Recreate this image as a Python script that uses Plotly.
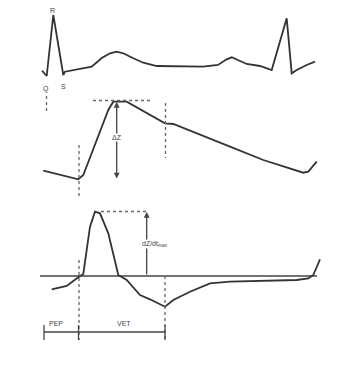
import plotly.graph_objects as go

# ECG trace (pixel-space reading of the figure)
ecg_x = [42, 46.7, 53.3, 63.3, 65, 78, 91.7, 101.7, 110, 116.7, 123.3, 133.3, 143.3, 156.7, 180, 203, 218,
         226.7, 231.7, 238, 246.7, 260, 271.7, 286.7, 291.7, 296.7, 306.7, 315]
ecg_y = [70.7, 76, 15, 75, 71.7, 69, 66.7, 58, 53.3, 51.7, 53.3, 58.3, 62.7, 66, 66.7, 66.7, 65,
         59.3, 57.3, 60, 64, 66, 70, 18.3, 73.3, 70, 65, 61.7]

# Impedance (Z) trace
imp_x = [43.3, 78.3, 83.3, 96.7, 108.3, 113.3, 126.7, 165, 173.3, 230, 263.3, 303.3, 308.3, 316.7]
imp_y = [170.7, 179.3, 175, 140, 110, 101.7, 101.7, 123.3, 124, 146.7, 160, 172.7, 171.7, 161.7]

# dZ/dt trace
dz_x = [51.7, 66.7, 78.3, 83.3, 90, 95, 100, 108.3, 118.3, 126.7, 140, 150, 165, 173.3, 190, 210, 230,
        296.7, 308.3, 313.3, 320]
dz_y = [289.3, 286, 277.3, 274, 226.7, 211.7, 213.3, 233.3, 275, 280, 295, 299.3, 306.7, 300, 291.7, 283.3,
        281.7, 280, 278.3, 275, 259.3]

# Reference / guide lines
baseline_x = [40, 317]
baseline_y = [276, 276]
guides = [  # (x0, y0, x1, y1)
    (46.5, 96, 46.5, 112),     # Q marker
    (93, 100.5, 150, 100.5),   # Z peak level
    (79, 145, 79, 197),        # Z onset
    (165.5, 103, 165.5, 158),  # Z notch
    (101, 211.5, 147, 211.5),  # dZ/dt peak level
    (79, 260, 79, 340),        # B point
    (165, 276, 165, 340),      # X point
]
interval_x = [44, 165]
interval_y = [332, 332]
interval_ticks = [44, 78.5, 165]

line_color = "#333333"
fig = go.Figure()
fig.add_trace(go.Scatter(x=ecg_x, y=ecg_y, mode="lines", line=dict(color=line_color, width=1.8)))
fig.add_trace(go.Scatter(x=imp_x, y=imp_y, mode="lines", line=dict(color=line_color, width=1.8)))
fig.add_trace(go.Scatter(x=baseline_x, y=baseline_y, mode="lines", line=dict(color="#444", width=1.4)))
fig.add_trace(go.Scatter(x=dz_x, y=dz_y, mode="lines", line=dict(color=line_color, width=1.8)))
for (x0, y0, x1, y1) in guides:
    fig.add_trace(go.Scatter(x=[x0, x1], y=[y0, y1], mode="lines",
                             line=dict(color="#666", width=1.3, dash="dot")))
fig.add_trace(go.Scatter(x=interval_x, y=interval_y, mode="lines", line=dict(color="#444", width=1.3)))
for tx in interval_ticks:
    fig.add_trace(go.Scatter(x=[tx, tx], y=[325, 340], mode="lines", line=dict(color="#444", width=1.3)))

# Arrows
fig.add_annotation(x=116.7, y=102, ax=116.7, ay=180, xref="x", yref="y", axref="x", ayref="y",
                   showarrow=True, arrowhead=2, arrowside="end+start", arrowsize=0.9, arrowwidth=1.3,
                   arrowcolor="#444", text="")
fig.add_annotation(x=146.7, y=212, ax=146.7, ay=276, xref="x", yref="y", axref="x", ayref="y",
                   showarrow=True, arrowhead=2, arrowsize=0.9, arrowwidth=1.3,
                   arrowcolor="#444", text="")

font = dict(family="Liberation Sans, Arial", size=7, color="#444")
labels = [
    (52.5, 10, "R"), (45.5, 89, "Q"), (63.5, 86, "S"),
    (56, 323, "PEP"), (124, 323, "VET"),
]
for (x, y, t) in labels:
    fig.add_annotation(x=x, y=y, text=t, showarrow=False, font=font, xref="x", yref="y")
fig.add_annotation(x=117, y=137, text="ΔZ", showarrow=False, font=font, bgcolor="white",
                   xref="x", yref="y", borderpad=0)
fig.add_annotation(x=155, y=244, text="dZ/dt<sub>max</sub>", showarrow=False, font=font,
                   bgcolor="white", xref="x", yref="y", borderpad=0)

# The page body adds an 8 px margin, so the figure starts 8 px in; ranges compensate.
fig.update_layout(
    width=341, height=362, margin=dict(l=0, r=0, t=0, b=0),
    paper_bgcolor="white", plot_bgcolor="white", showlegend=False,
    xaxis=dict(range=[8, 349], visible=False, fixedrange=True),
    yaxis=dict(range=[370, 8], visible=False, fixedrange=True),
)
fig.write_html("out.html")
